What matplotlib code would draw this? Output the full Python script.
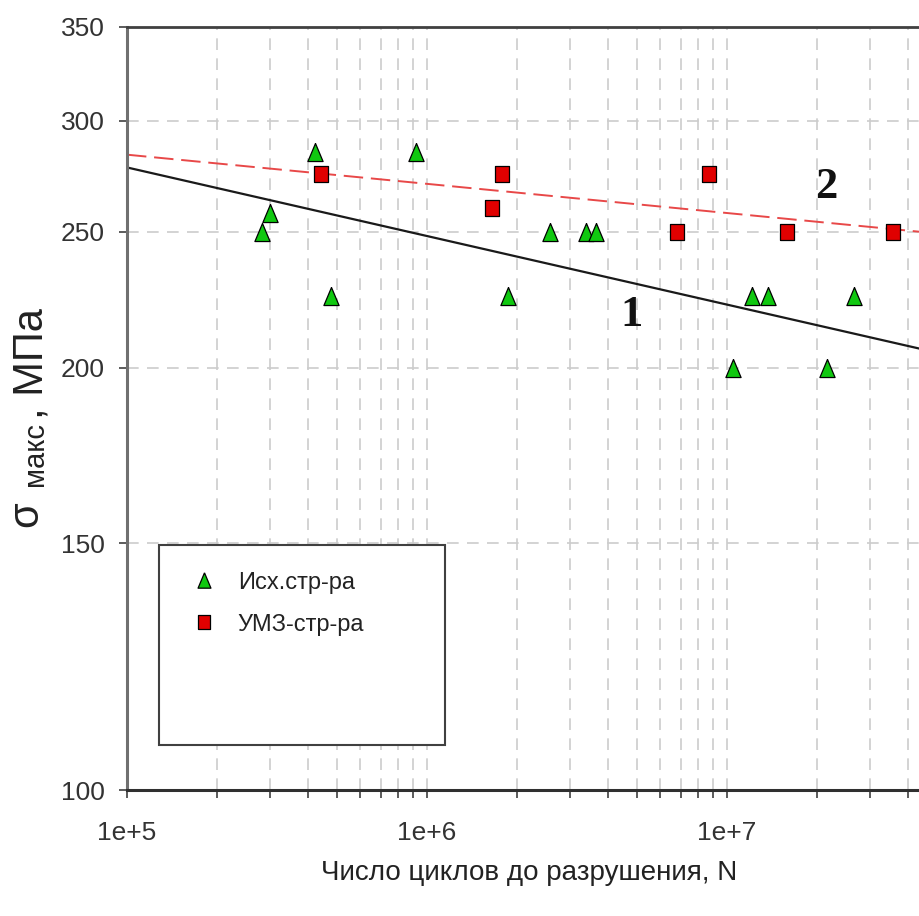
import numpy as np
import matplotlib
matplotlib.use("Agg")
import matplotlib.pyplot as plt
from matplotlib.patches import Rectangle
from matplotlib.ticker import FixedLocator, LogLocator, NullFormatter, FixedFormatter

# --- data -------------------------------------------------------------
# initial structure (Исх.стр-ра): cycles to failure and max stress, MPa
n_initial = [2.82e5, 3.0e5, 4.24e5, 4.79e5, 9.2e5, 1.86e6, 2.57e6, 3.4e6,
             3.67e6, 1.05e7, 1.21e7, 1.37e7, 2.15e7, 2.65e7]
s_initial = [250, 258, 285, 225, 285, 225, 250, 250,
             250, 200, 225, 225, 200, 225]

# UFG structure (УМЗ-стр-ра)
n_ufg = [4.43e5, 1.65e6, 1.78e6, 6.8e6, 8.7e6, 1.58e7, 3.57e7]
s_ufg = [275, 260, 275, 250, 275, 250, 250]

# power-law fits sigma = A * N**b
fit1_A, fit1_b = 488.0, -0.0489
fit2_A, fit2_b = 360.6, -0.0208

x_range = [1e5, 10 ** 7.64]
y_range = [100, 350]
y_ticks = [100, 150, 200, 250, 300, 350]
x_ticks = [1e5, 1e6, 1e7]
x_tick_labels = ["1e+5", "1e+6", "1e+7"]
legend_labels = ["Исх.стр-ра", "УМЗ-стр-ра"]

# --- figure -------------------------------------------------------------
FONT = ["Liberation Sans", "DejaVu Sans"]
plt.rcParams["font.family"] = FONT

W, H = 919, 916
fig = plt.figure(figsize=(W / 100, H / 100), dpi=100)
ax = fig.add_axes([127 / W, 1 - 790 / H, 1 - 127 / W, (790 - 27) / H])
ax.set_xscale("log")
ax.set_yscale("log")
ax.set_xlim(*x_range)
ax.set_ylim(*y_range)

# grid
grid_kw = dict(color="#cccccc", linestyle=(0, (7, 5)), linewidth=1.2, zorder=0)
ax.xaxis.set_major_locator(FixedLocator(x_ticks))
ax.xaxis.set_major_formatter(FixedFormatter(x_tick_labels))
ax.xaxis.set_minor_locator(LogLocator(base=10, subs=np.arange(2, 10)))
ax.xaxis.set_minor_formatter(NullFormatter())
ax.yaxis.set_major_locator(FixedLocator(y_ticks))
ax.yaxis.set_major_formatter(FixedFormatter([str(v) for v in y_ticks]))
ax.yaxis.set_minor_locator(FixedLocator([]))
ax.grid(True, which="both", axis="x", **grid_kw)
ax.grid(True, which="major", axis="y", **grid_kw)

# spines & ticks
ax.spines["right"].set_visible(False)
ax.spines["left"].set_color("#707070")
ax.spines["left"].set_linewidth(2.2)
ax.spines["bottom"].set_color("#303030")
ax.spines["bottom"].set_linewidth(2.2)
ax.spines["top"].set_color("#404040")
ax.spines["top"].set_linewidth(2.0)
ax.tick_params(axis="both", which="both", direction="out", length=6,
               width=1.2, color="#404040", labelsize=19, labelcolor="#333333")
ax.tick_params(axis="x", pad=16)
ax.tick_params(axis="y", pad=10)

# fit lines
xx = np.logspace(np.log10(x_range[0]), np.log10(x_range[1]), 200)
ax.plot(xx, fit1_A * xx ** fit1_b, color="#1a1a1a", lw=1.6, zorder=2)
ax.plot(xx, fit2_A * xx ** fit2_b, color="#e84848", lw=1.4,
        linestyle=(0, (10, 4)), zorder=2)

# markers
tri = [(0, 0.5), (-0.42, -0.5), (0.42, -0.5), (0, 0.5)]
rect = [(-0.4, -0.5), (0.4, -0.5), (0.4, 0.5), (-0.4, 0.5), (-0.4, -0.5)]
h1, = ax.plot(n_initial, s_initial, linestyle="none", marker=tri, ms=13,
              mfc="#10c810", mec="#000000", mew=0.9, zorder=3,
              label=legend_labels[0], clip_on=False)
h2, = ax.plot(n_ufg, s_ufg, linestyle="none", marker=rect, ms=12,
              mfc="#e00000", mec="#000000", mew=0.9, zorder=3,
              label=legend_labels[1], clip_on=False)

# curve labels
serif = dict(family=["Liberation Serif", "DejaVu Serif"], fontweight="bold",
             fontsize=32, color="#111111", ha="center", va="center")
ax.text(4.82e6, 218, "1", **serif)
ax.text(2.14e7, 269, "2", **serif)

# legend box
ax.add_patch(Rectangle((0.0404, 0.059), 0.3611, 0.262, transform=ax.transAxes,
                       facecolor="white", edgecolor="#404040", lw=1.5, zorder=4))
leg = ax.legend(handles=[h1, h2], loc="upper left",
                bbox_to_anchor=(0.052, 0.311), frameon=False, fontsize=17,
                handletextpad=0.75, labelspacing=0.85, handlelength=1.4,
                borderpad=0.3, markerscale=0.85)
leg.set_zorder(5)
for t in leg.get_texts():
    t.set_color("#222222")

# axis labels
fig.text((325 + 733) / 2 / W, 1 - 873 / H, "Число циклов до разрушения, N",
         fontsize=20, color="#222222", ha="center", va="center")

# y label: σ with lowered "макс", then ", МПа", laid out bottom-to-top
fig.canvas.draw()
renderer = fig.canvas.get_renderer()
ylab_kw = dict(rotation=90, rotation_mode="anchor", ha="left", va="baseline",
               color="#222222")
y_px = 527
pieces = [("σ", 30, 37, 15), ("макс", 21, 43, 3), (", МПа", 30, 43, 0)]
for txt, size, base_x, gap in pieces:
    t = fig.text(base_x / W, 1 - y_px / H, txt, fontsize=size, **ylab_kw)
    bb = t.get_window_extent(renderer)
    y_px -= bb.height + gap

fig.savefig("out.png", dpi=100, facecolor="white")
